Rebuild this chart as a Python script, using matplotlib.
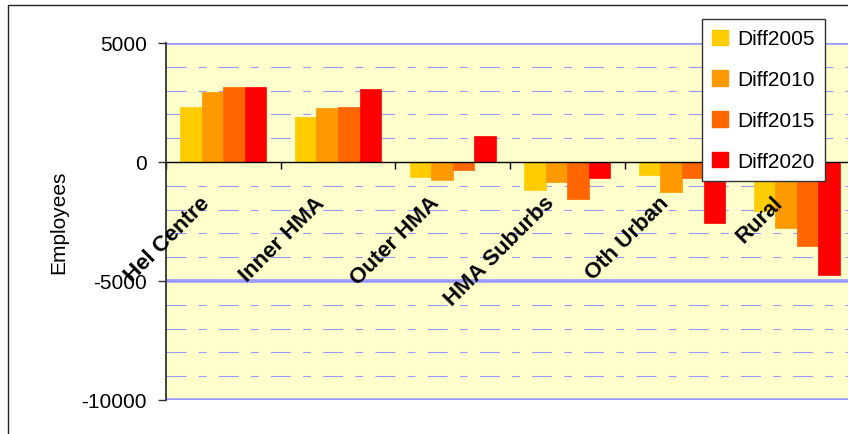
import matplotlib
matplotlib.use("Agg")
import matplotlib.pyplot as plt
import numpy as np
from matplotlib.patches import Patch, Rectangle
from matplotlib.ticker import MultipleLocator

plt.rcParams['font.family'] = ['Liberation Sans', 'DejaVu Sans']
plt.rcParams['axes.unicode_minus'] = False

# data
regions = ['Hel Centre', 'Inner HMA', 'Outer HMA', 'HMA Suburbs', 'Oth Urban', 'Rural']
diff2005 = [2330, 1900, -620, -1160, -530, -2060]
diff2010 = [2930, 2260, -740, -830, -1260, -2790]
diff2015 = [3150, 2300, -340, -1560, -690, -3530]
diff2020 = [3150, 3050, 1080, -690, -2580, -4740]
series = ['Diff2005', 'Diff2010', 'Diff2015', 'Diff2020']
colors = ['#FFCC00', '#FF9900', '#FF6600', '#FF0000']
grid_blue = '#9999FF'

fig = plt.figure(figsize=(8.48, 4.35), dpi=100)
ax = fig.add_axes([166/848, 34/435, 688/848, 357/435])
ax.set_facecolor('#FFFFCC')

# outer chart frame
fig.patches.append(Rectangle((8/848, -0.2), 2, 1.2 - 6/435, transform=fig.transFigure,
                             fill=False, edgecolor='#222222', linewidth=1))

x = np.arange(len(regions))
w = 0.188
for k, (vals, c) in enumerate(zip([diff2005, diff2010, diff2015, diff2020], colors)):
    ax.bar(x + (k - 1.5) * w, vals, w, color=c, edgecolor=c, linewidth=0.5, zorder=3)

ax.set_xlim(-0.5, 5.5)
ax.set_ylim(-10000, 5000)
ax.yaxis.set_major_locator(MultipleLocator(5000))
ax.yaxis.set_minor_locator(MultipleLocator(1000))
ax.tick_params(axis='y', which='major', length=6, width=1, pad=8, labelsize=15, color='#333333')
ax.tick_params(axis='y', which='minor', length=0)

# minor dashed gridlines
ax.grid(which='minor', axis='y', color=grid_blue, linewidth=0.8,
        linestyle=(0, (18, 11, 7, 11)), zorder=1)
# major gridlines except zero
for v in [5000, -5000, -10000]:
    ax.axhline(v, color=grid_blue, linewidth=2.6, zorder=2)

# category axis on zero
ax.spines['bottom'].set_position(('data', 0))
ax.spines['bottom'].set_zorder(4)
ax.spines['bottom'].set_linewidth(1)
ax.spines['top'].set_visible(False)
ax.spines['right'].set_visible(False)
ax.spines['left'].set_color('#333333')
ax.spines['left'].set_linewidth(1.3)
ax.set_xticks(np.arange(-0.5, 6, 1))
ax.set_xticklabels([])
ax.tick_params(axis='x', length=5, width=1, direction='out')

for i, name in enumerate(regions):
    ax.text(i - 0.21, -1250, name, rotation=45, rotation_mode='anchor',
            ha='right', va='top', fontsize=16, fontweight='bold', zorder=5)

ax.set_ylabel('Employees', fontsize=15, labelpad=9)

handles = [Patch(facecolor=c, edgecolor=c) for c in colors]
leg = ax.legend(handles, series, loc='upper left', bbox_to_anchor=(702/848, 1 - 20/435),
                bbox_transform=fig.transFigure, borderaxespad=0, fontsize=15,
                frameon=True, fancybox=False, framealpha=1, edgecolor='#333333',
                handlelength=0.75, handleheight=0.75, handletextpad=0.45,
                labelspacing=1.05, borderpad=0.5)
leg.get_frame().set_linewidth(1)
leg.set_zorder(10)

fig.savefig('out.png', dpi=100)
